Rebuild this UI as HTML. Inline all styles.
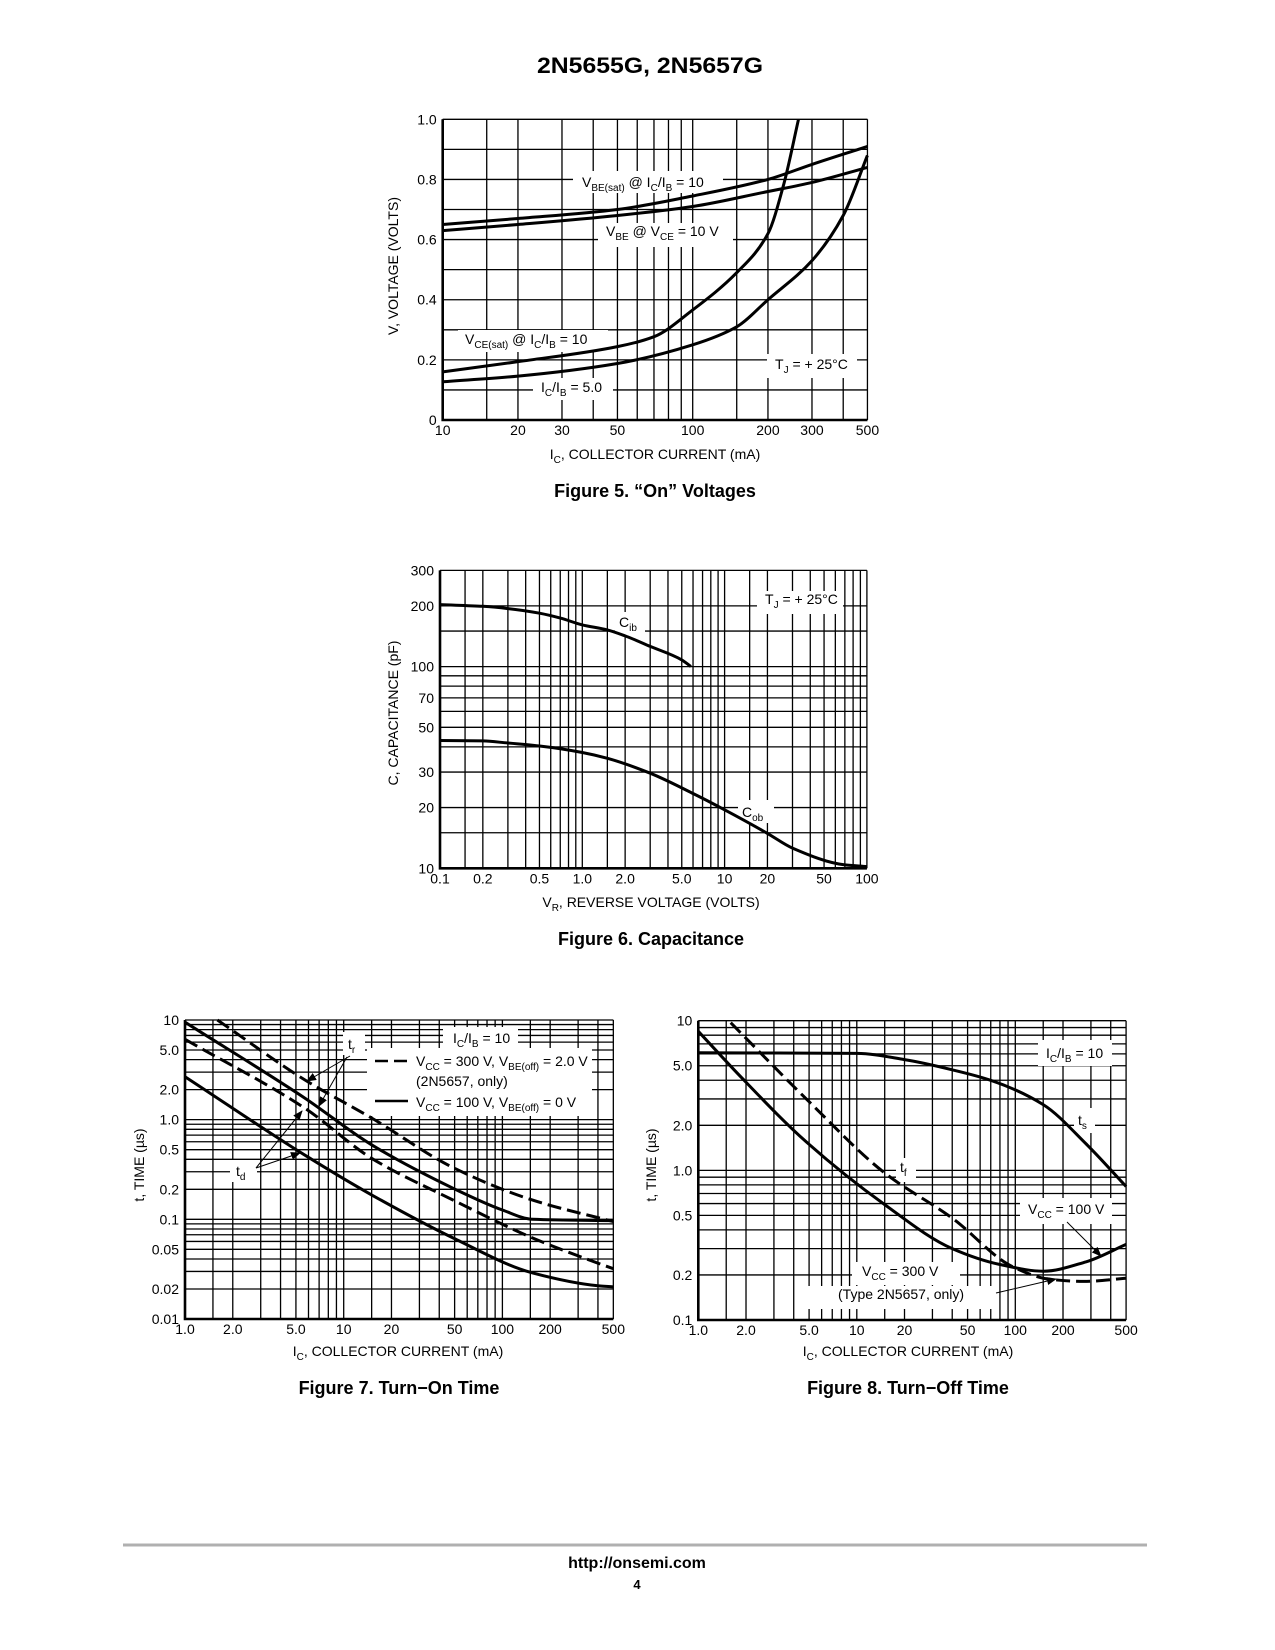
<!DOCTYPE html>
<html><head><meta charset="utf-8"><title>2N5655G, 2N5657G</title>
<style>
html,body{margin:0;padding:0;background:#fff;}
svg{display:block;font-family:"Liberation Sans",Arial,sans-serif;}
.t{font-size:14px;fill:#000;}
.s{font-size:10px;}
.ft{font-size:18px;font-weight:bold;}
</style></head>
<body>
<svg id="page" width="1275" height="1650" viewBox="0 0 1275 1650" xmlns="http://www.w3.org/2000/svg">
<defs><marker id="ah" markerWidth="10" markerHeight="8" refX="9" refY="4" orient="auto" markerUnits="userSpaceOnUse"><path d="M0,0 L10,4 L0,8 Z" fill="#000"/></marker></defs>
<rect width="1275" height="1650" fill="#fff"/>
<text x="650" y="73" text-anchor="middle" font-size="22" font-weight="bold" textLength="226" lengthAdjust="spacingAndGlyphs">2N5655G, 2N5657G</text>
<g id="f5"></g>
<g id="f6"></g>
<g id="f7"></g>
<g id="f8"></g>
<g id="labels">
<!-- fig5 -->
<text class="t" x="582" y="187">V<tspan class="s" dy="4">BE(sat)</tspan><tspan dy="-4"> @ I</tspan><tspan class="s" dy="4">C</tspan><tspan dy="-4">/I</tspan><tspan class="s" dy="4">B</tspan><tspan dy="-4"> = 10</tspan></text>
<text class="t" x="606" y="236">V<tspan class="s" dy="4">BE</tspan><tspan dy="-4"> @ V</tspan><tspan class="s" dy="4">CE</tspan><tspan dy="-4"> = 10 V</tspan></text>
<text class="t" x="465" y="344">V<tspan class="s" dy="4">CE(sat)</tspan><tspan dy="-4"> @ I</tspan><tspan class="s" dy="4">C</tspan><tspan dy="-4">/I</tspan><tspan class="s" dy="4">B</tspan><tspan dy="-4"> = 10</tspan></text>
<text class="t" x="541" y="392">I<tspan class="s" dy="4">C</tspan><tspan dy="-4">/I</tspan><tspan class="s" dy="4">B</tspan><tspan dy="-4"> = 5.0</tspan></text>
<text class="t" x="775" y="369">T<tspan class="s" dy="4">J</tspan><tspan dy="-4"> = + 25°C</tspan></text>
<text class="t" x="655" y="459" text-anchor="middle">I<tspan class="s" dy="4">C</tspan><tspan dy="-4">, COLLECTOR CURRENT (mA)</tspan></text>
<text class="t" transform="translate(398,266) rotate(-90)" text-anchor="middle">V, VOLTAGE (VOLTS)</text>
<text class="ft" x="655" y="497" text-anchor="middle">Figure 5. “On” Voltages</text>
<!-- fig6 -->
<text class="t" x="765" y="604">T<tspan class="s" dy="4">J</tspan><tspan dy="-4"> = + 25°C</tspan></text>
<text class="t" x="619" y="627">C<tspan class="s" dy="4">ib</tspan></text>
<text class="t" x="742" y="817">C<tspan class="s" dy="4">ob</tspan></text>
<text class="t" x="651" y="907" text-anchor="middle">V<tspan class="s" dy="4">R</tspan><tspan dy="-4">, REVERSE VOLTAGE (VOLTS)</tspan></text>
<text class="t" transform="translate(398,713) rotate(-90)" text-anchor="middle">C, CAPACITANCE (pF)</text>
<text class="ft" x="651" y="945" text-anchor="middle">Figure 6. Capacitance</text>
<!-- fig7 -->
<text class="t" x="453" y="1043">I<tspan class="s" dy="4">C</tspan><tspan dy="-4">/I</tspan><tspan class="s" dy="4">B</tspan><tspan dy="-4"> = 10</tspan></text>
<line x1="375" y1="1061" x2="408" y2="1061" stroke="#000" stroke-width="2.5" stroke-dasharray="13,6"/>
<text class="t" x="416" y="1066">V<tspan class="s" dy="4">CC</tspan><tspan dy="-4"> = 300 V, V</tspan><tspan class="s" dy="4">BE(off)</tspan><tspan dy="-4"> = 2.0 V</tspan></text>
<text class="t" x="416" y="1086">(2N5657, only)</text>
<line x1="375" y1="1101" x2="408" y2="1101" stroke="#000" stroke-width="2.5"/>
<text class="t" x="416" y="1107">V<tspan class="s" dy="4">CC</tspan><tspan dy="-4"> = 100 V, V</tspan><tspan class="s" dy="4">BE(off)</tspan><tspan dy="-4"> = 0 V</tspan></text>
<text class="t" x="348" y="1049">t<tspan class="s" dy="4">r</tspan></text>
<text class="t" x="236" y="1176">t<tspan class="s" dy="4">d</tspan></text>
<line x1="350" y1="1056" x2="307" y2="1081" stroke="#000" stroke-width="1" marker-end="url(#ah)"/>
<line x1="347" y1="1057" x2="319" y2="1106" stroke="#000" stroke-width="1" marker-end="url(#ah)"/>
<line x1="256" y1="1168" x2="302" y2="1111" stroke="#000" stroke-width="1" marker-end="url(#ah)"/>
<line x1="256" y1="1168" x2="300" y2="1153" stroke="#000" stroke-width="1" marker-end="url(#ah)"/>
<text class="t" x="398" y="1356" text-anchor="middle">I<tspan class="s" dy="4">C</tspan><tspan dy="-4">, COLLECTOR CURRENT (mA)</tspan></text>
<text class="t" transform="translate(144,1165) rotate(-90)" text-anchor="middle">t, TIME (µs)</text>
<text class="ft" x="399" y="1394" text-anchor="middle">Figure 7. Turn−On Time</text>
<!-- fig8 -->
<text class="t" x="1046" y="1058">I<tspan class="s" dy="4">C</tspan><tspan dy="-4">/I</tspan><tspan class="s" dy="4">B</tspan><tspan dy="-4"> = 10</tspan></text>
<text class="t" x="1078" y="1125">t<tspan class="s" dy="4">s</tspan></text>
<text class="t" x="900" y="1172">t<tspan class="s" dy="4">f</tspan></text>
<text class="t" x="1028" y="1214">V<tspan class="s" dy="4">CC</tspan><tspan dy="-4"> = 100 V</tspan></text>
<text class="t" x="862" y="1276">V<tspan class="s" dy="4">CC</tspan><tspan dy="-4"> = 300 V</tspan></text>
<text class="t" x="838" y="1299">(Type 2N5657, only)</text>
<line x1="1067" y1="1222" x2="1101" y2="1256" stroke="#000" stroke-width="1" marker-end="url(#ah)"/>
<line x1="996" y1="1293" x2="1056" y2="1279" stroke="#000" stroke-width="1" marker-end="url(#ah)"/>
<text class="t" x="908" y="1356" text-anchor="middle">I<tspan class="s" dy="4">C</tspan><tspan dy="-4">, COLLECTOR CURRENT (mA)</tspan></text>
<text class="t" transform="translate(656,1165) rotate(-90)" text-anchor="middle">t, TIME (µs)</text>
<text class="ft" x="908" y="1394" text-anchor="middle">Figure 8. Turn−Off Time</text>
</g>
<line x1="123" y1="1545" x2="1147" y2="1545" stroke="#b0b0b0" stroke-width="3"/>
<text x="637" y="1568" text-anchor="middle" font-size="16" font-weight="bold">http://onsemi.com</text>
<text x="637" y="1589" text-anchor="middle" font-size="13" font-weight="bold">4</text>
</svg>
<script>
// ---------- Figure 5 data ----------
const f5XTicks = [10,20,30,50,100,200,300,500];
const f5XTickLabels = ["10","20","30","50","100","200","300","500"];
const f5YTicks = [0,0.2,0.4,0.6,0.8,1.0];
const f5YTickLabels = ["0","0.2","0.4","0.6","0.8","1.0"];
const f5XGrid = [10,15,20,30,40,50,60,70,80,90,100,150,200,300,400,500];
const f5YGrid = [0,0.1,0.2,0.3,0.4,0.5,0.6,0.7,0.8,0.9,1.0];
const f5VbeSatI = [10,20,50,100,200,300,500];
const f5VbeSatV = [0.65,0.67,0.70,0.745,0.80,0.85,0.91];
const f5VbeI = [10,20,50,100,200,300,500];
const f5VbeV = [0.63,0.65,0.68,0.71,0.76,0.79,0.84];
const f5Vce10I = [10,20,50,70,100,150,200,230,265];
const f5Vce10V = [0.16,0.194,0.244,0.277,0.366,0.49,0.62,0.776,1.0];
const f5Vce5I = [10,20,50,100,150,200,300,400,500];
const f5Vce5V = [0.127,0.146,0.188,0.25,0.31,0.40,0.53,0.68,0.88];
// ---------- Figure 6 data ----------
const f6XTicks = [0.1,0.2,0.5,1,2,5,10,20,50,100];
const f6XTickLabels = ["0.1","0.2","0.5","1.0","2.0","5.0","10","20","50","100"];
const f6YTicks = [10,20,30,50,70,100,200,300];
const f6YTickLabels = ["10","20","30","50","70","100","200","300"];
const f6XGrid = [0.1,0.15,0.2,0.3,0.4,0.5,0.6,0.7,0.8,0.9,1,1.5,2,3,4,5,6,7,8,9,10,15,20,30,40,50,60,70,80,90,100];
const f6YGrid = [10,15,20,30,40,50,60,70,80,90,100,150,200,300];
const f6CibV = [0.1,0.2,0.3,0.5,0.7,1.0,1.5,2,3,5,5.8];
const f6CibC = [203,199,194,184,174,161,152,142,126,108,100];
const f6CobV = [0.1,0.2,0.3,0.5,1.0,1.5,3,6,10,20,30,70,100];
const f6CobC = [43,42.8,41.8,40.4,37.5,35.1,29.6,23.5,19.5,14.9,12.6,10.4,10.2];
// ---------- Figure 7 data ----------
const f7XTicks = [1,2,5,10,20,50,100,200,500];
const f7XTickLabels = ["1.0","2.0","5.0","10","20","50","100","200","500"];
const f7YTicks = [10,5,2,1,0.5,0.2,0.1,0.05,0.02,0.01];
const f7YTickLabels = ["10","5.0","2.0","1.0","0.5","0.2","0.1","0.05","0.02","0.01"];
const f7TrDashI = [1.6,5.7,15,49,155,500];
const f7TrDashT = [10,2.5,1.04,0.33,0.156,0.095];
const f7TrSolidI = [1,5.7,15,49,100,155,500];
const f7TrSolidT = [9.5,1.64,0.56,0.205,0.124,0.1,0.097];
const f7TdDashI = [1,5.7,15,49,155,407,500];
const f7TdDashT = [6.4,1.3,0.41,0.156,0.065,0.036,0.032];
const f7TdSolidI = [1,5.7,15,49,155,407,500];
const f7TdSolidT = [2.7,0.44,0.176,0.065,0.029,0.0215,0.021];
// ---------- Figure 8 data ----------
const f8XTicks = [1,2,5,10,20,50,100,200,500];
const f8XTickLabels = ["1.0","2.0","5.0","10","20","50","100","200","500"];
const f8YTicks = [10,5,2,1,0.5,0.2,0.1];
const f8YTickLabels = ["10","5.0","2.0","1.0","0.5","0.2","0.1"];
const f8TsI = [1,10,20,40,70,150,280,500];
const f8TsT = [6.1,6.05,5.5,4.7,4.0,2.75,1.5,0.78];
const f8TfDashI = [1.6,4.8,15,40,97,165,270,500];
const f8TfDashT = [9.7,3.0,0.96,0.48,0.226,0.187,0.181,0.19];
const f8Tf100I = [1,1.9,4.8,15,40,80,150,280,500];
const f8Tf100T = [8.5,4.1,1.55,0.59,0.30,0.235,0.212,0.245,0.32];

const NS = "http://www.w3.org/2000/svg";
function mk(tag, parent, name){
  const e = document.createElementNS(NS, tag);
  
  
  parent.appendChild(e);
  return e;
}
function logScale(p0, dec, vmin, dir){ return v => p0 + dir*Math.log10(v/vmin)*dec; }
function linScale(p0, p1, v0, v1){ return v => p0 + (v-v0)/(v1-v0)*(p1-p0); }
const logGrid = (lo, hi) => { const a=[]; for(let d=lo; d<hi; d*=10){ for(let k=1;k<10;k++){ a.push(+(d*k).toPrecision(3)); } } a.push(hi); return a; };
const f78XGrid = [1,1.5,2,3,4,5,6,7,8,9,10,15,20,30,40,50,60,70,80,90,100,150,200,300,400,500];

// monotone cubic (Fritsch-Carlson) in pixel space
function path(pts){
  const n = pts.length;
  const dx=[], m=[];
  for(let i=0;i<n-1;i++){ dx.push(pts[i+1][0]-pts[i][0]); m.push((pts[i+1][1]-pts[i][1])/dx[i]); }
  const t=[m[0]];
  for(let i=1;i<n-1;i++){
    if(m[i-1]*m[i]<=0) t.push(0);
    else { const w1=2*dx[i]+dx[i-1], w2=dx[i]+2*dx[i-1]; t.push((w1+w2)/(w1/m[i-1]+w2/m[i])); }
  }
  t.push(m[n-2]);
  let d = "M"+pts[0][0].toFixed(1)+","+pts[0][1].toFixed(1);
  for(let i=0;i<n-1;i++){
    const h=dx[i]/3;
    d += " C"+(pts[i][0]+h).toFixed(1)+","+(pts[i][1]+t[i]*h).toFixed(1)+" "+(pts[i+1][0]-h).toFixed(1)+","+(pts[i+1][1]-t[i+1]*h).toFixed(1)+" "+pts[i+1][0].toFixed(1)+","+pts[i+1][1].toFixed(1);
  }
  return d;
}

function chart(cfg){
  const g = document.getElementById(cfg.id);
  const {sx, sy, x0, x1, y0, y1} = cfg;
  cfg.xGrid.forEach(v => {
    const l = mk('line', g, 'v-gridline');
    l.setAttribute('x1', sx(v)); l.setAttribute('x2', sx(v));
    l.setAttribute('y1', y1); l.setAttribute('y2', y0);
    l.setAttribute('stroke', '#000'); l.setAttribute('stroke-width', '1.3');
  });
  cfg.yGrid.forEach(v => {
    const l = mk('line', g, 'h-gridline');
    l.setAttribute('x1', x0); l.setAttribute('x2', x1);
    l.setAttribute('y1', sy(v)); l.setAttribute('y2', sy(v));
    l.setAttribute('stroke', '#000'); l.setAttribute('stroke-width', '1.3');
  });
  const ax = mk('path', g, 'axis-frame');
  ax.setAttribute('d', `M${x0},${y1} L${x0},${y0} L${x1},${y0}`);
  ax.setAttribute('fill', 'none'); ax.setAttribute('stroke', '#000'); ax.setAttribute('stroke-width', '2.6');
  cfg.boxes.forEach(b => {
    const r = mk('rect', g, 'label-background');
    r.setAttribute('x', b[0]); r.setAttribute('y', b[1]); r.setAttribute('width', b[2]-b[0]); r.setAttribute('height', b[3]-b[1]);
    r.setAttribute('fill', '#fff');
  });
  cfg.series.forEach(s => {
    const p = mk('path', g, s.name);
    p.setAttribute('d', path(s.x.map((v,i) => [sx(v), sy(s.y[i])])));
    p.setAttribute('fill', 'none'); p.setAttribute('stroke', '#000'); p.setAttribute('stroke-width', '3');
    if (s.dash) p.setAttribute('stroke-dasharray', '14,6');
  });
  cfg.xTicks.forEach((v,i) => {
    const t = mk('text', g, 'x-tick-label');
    t.setAttribute('x', sx(v)); t.setAttribute('y', y0 + 15);
    t.setAttribute('text-anchor', 'middle'); t.setAttribute('font-size', '14');
    t.textContent = cfg.xLabels[i];
  });
  cfg.yTicks.forEach((v,i) => {
    const t = mk('text', g, 'y-tick-label');
    t.setAttribute('x', x0 - 6); t.setAttribute('y', sy(v) + 5);
    t.setAttribute('text-anchor', 'end'); t.setAttribute('font-size', '14');
    t.textContent = cfg.yLabels[i];
  });
}

// Figure 5
{
  const sx = logScale(442.7, 250, 10, 1), sy = linScale(420, 119.3, 0, 1);
  chart({id:'f5', sx, sy, x0:442.7, x1:sx(500), y0:420, y1:119.3,
    xGrid:f5XGrid, yGrid:f5YGrid, xTicks:f5XTicks, xLabels:f5XTickLabels, yTicks:f5YTicks, yLabels:f5YTickLabels,
    boxes:[[573,171,723,193],[598,223,733,247],[458,330,608,352],[533,378,613,400],[767,354,857,378]],
    series:[{name:'vbe-sat-curve', x:f5VbeSatI, y:f5VbeSatV},{name:'vbe-curve', x:f5VbeI, y:f5VbeV},
            {name:'vce-sat-10-curve', x:f5Vce10I, y:f5Vce10V},{name:'vce-sat-5-curve', x:f5Vce5I, y:f5Vce5V}]});
}
// Figure 6
{
  const sx = logScale(440, 142.3, 0.1, 1), sy = logScale(868.3, 201.7, 10, -1);
  chart({id:'f6', sx, sy, x0:440, x1:sx(100), y0:868.3, y1:sy(300),
    xGrid:f6XGrid, yGrid:f6YGrid, xTicks:f6XTicks, xLabels:f6XTickLabels, yTicks:f6YTicks, yLabels:f6YTickLabels,
    boxes:[[757,591,843,614],[615,612,645,637],[738,800,774,823]],
    series:[{name:'cib-curve', x:f6CibV, y:f6CibC},{name:'cob-curve', x:f6CobV, y:f6CobC}]});
}
// Figure 7
{
  const sx = logScale(185, 158.7, 1, 1), sy = logScale(1319, 99.67, 0.01, -1);
  chart({id:'f7', sx, sy, x0:185, x1:sx(500), y0:1319, y1:sy(10),
    xGrid:f78XGrid, yGrid:logGrid(0.01,10), xTicks:f7XTicks, xLabels:f7XTickLabels, yTicks:f7YTicks, yLabels:f7YTickLabels,
    boxes:[[443,1027,518,1048],[367,1048,592,1116],[343,1032,365,1055],[230,1160,257,1182]],
    series:[{name:'tr-300v-dashed', x:f7TrDashI, y:f7TrDashT, dash:true},{name:'tr-100v-solid', x:f7TrSolidI, y:f7TrSolidT},
            {name:'td-300v-dashed', x:f7TdDashI, y:f7TdDashT, dash:true},{name:'td-100v-solid', x:f7TdSolidI, y:f7TdSolidT}]});
}
// Figure 8
{
  const sx = logScale(698.3, 158.5, 1, 1), sy = logScale(1320, 149.65, 0.1, -1);
  chart({id:'f8', sx, sy, x0:698.3, x1:sx(500), y0:1320, y1:sy(10),
    xGrid:f78XGrid, yGrid:logGrid(0.1,10), xTicks:f8XTicks, xLabels:f8XTickLabels, yTicks:f8YTicks, yLabels:f8YTickLabels,
    boxes:[[1038,1040,1112,1066],[1074,1108,1095,1133],[896,1158,916,1182],[1020,1198,1112,1224],[852,1262,960,1285],[803,1286,993,1309]],
    series:[{name:'ts-curve', x:f8TsI, y:f8TsT},{name:'tf-300v-dashed', x:f8TfDashI, y:f8TfDashT, dash:true},
            {name:'tf-100v-solid', x:f8Tf100I, y:f8Tf100T}]});
}
</script>
</body></html>
